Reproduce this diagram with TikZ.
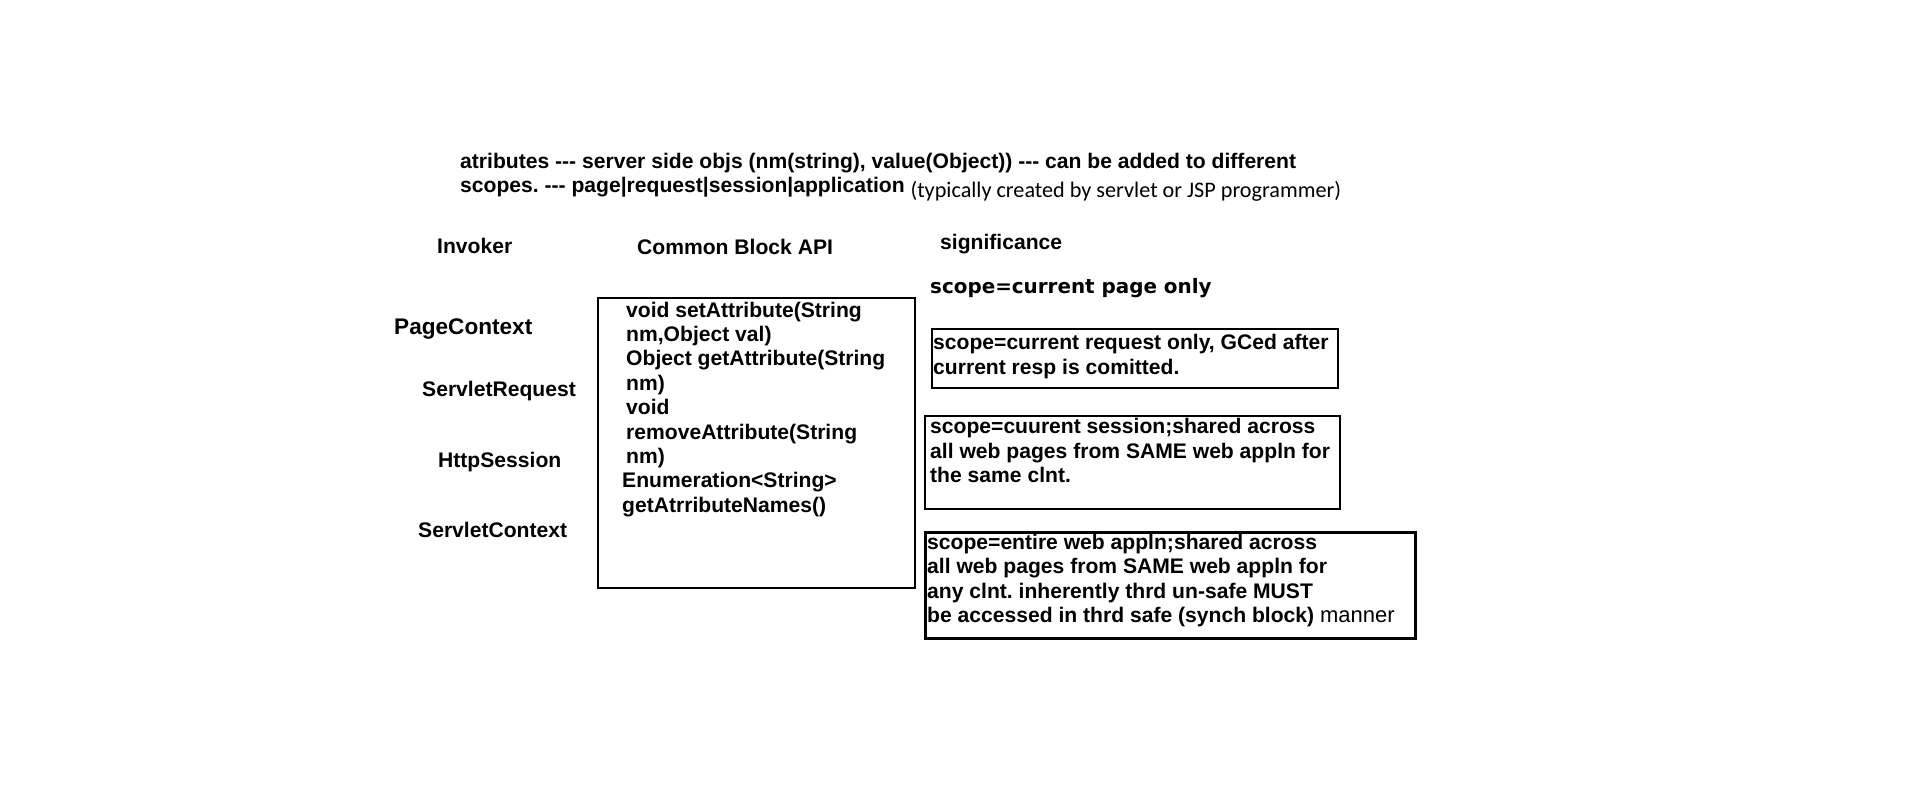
\documentclass[tikz,border=0pt]{standalone}
\usepackage{fontspec}
\newfontfamily\arialfont{Liberation Sans}
\newfontfamily\notefont{Carlito}
\newfontfamily\widefont{DejaVu Sans}
\usetikzlibrary{positioning}
\frenchspacing

\begin{document}
\begin{tikzpicture}[x=1pt,y=-1pt,
    txt/.style={anchor=base west,inner sep=0pt,align=left,
                font=\arialfont\bfseries\fontsize{21.1}{24.4}\selectfont},
    blk/.style={draw,line width=2pt,anchor=north west,inner sep=0pt}
  ]
  \useasboundingbox (0,0) rectangle (1914,789);
  % heading (base = last line)
  \node[txt] (head) at (460,192.4)
    {atributes --- server side objs (nm(string), value(Object)) --- can be added to different\\
     scopes. --- page|request|session|application
     \raisebox{-5pt}{\mdseries\notefont\fontsize{22.2}{24}\selectfont(typically created by servlet or JSP programmer)}};
  % column titles
  \node[txt] (invk) at (437,253) {Invoker};
  \node[txt] (cba)  at (637,254) {Common Block API};
  \node[txt] (sig)  at (940,249) {significance};
  % invokers
  \node[txt,font=\arialfont\bfseries\fontsize{22.6}{24}\selectfont] (pgctx) at (394,334) {PageContext};
  \node[txt] (sreq)  at (422,396) {ServletRequest};
  \node[txt] (hses)  at (438,467) {HttpSession};
  \node[txt] (sctx)  at (418,537) {ServletContext};
  % common block api
  \node[blk,minimum width=317pt,minimum height=290pt] (api) at (597,297) {};
  \node[txt] (apitop) at (626,463.5)
    {void setAttribute(String\\ nm,Object val)\\ Object getAttribute(String\\ nm)\\
     void\\ removeAttribute(String\\ nm)};
  \node[txt] (apienum) at (622,512)
    {Enumeration<String>\\ getAtrributeNames()};
  % scopes
  \node[txt,font=\widefont\bfseries\fontsize{19.9}{20}\selectfont] (pgsc) at (930,293)
    {scope=current page only};
  \node[blk,minimum width=406pt,minimum height=59pt] (reqbox) at (931,328) {};
  \node[txt] (reqsc) at (933,374)
    {scope=current request only, GCed after\\ current resp is comitted.};
  \node[blk,minimum width=415pt,minimum height=93pt] (sesbox) at (924,415) {};
  \node[txt] (sessc) at (930,482.5)
    {scope=cuurent session;shared across\\ all web pages from SAME web appln for\\ the same clnt.};
  \node[blk,line width=3.3pt,minimum width=490pt,minimum height=106pt] (appbox) at (924,531) {};
  \node[txt] (appsc) at (927,622.7)
    {scope=entire web appln;shared across\\ all web pages from SAME web appln for\\
     any clnt. inherently thrd un-safe MUST\\
     be accessed in thrd safe (synch block) {\mdseries\fontsize{22}{24.4}\selectfont manner}};
\end{tikzpicture}
\end{document}
